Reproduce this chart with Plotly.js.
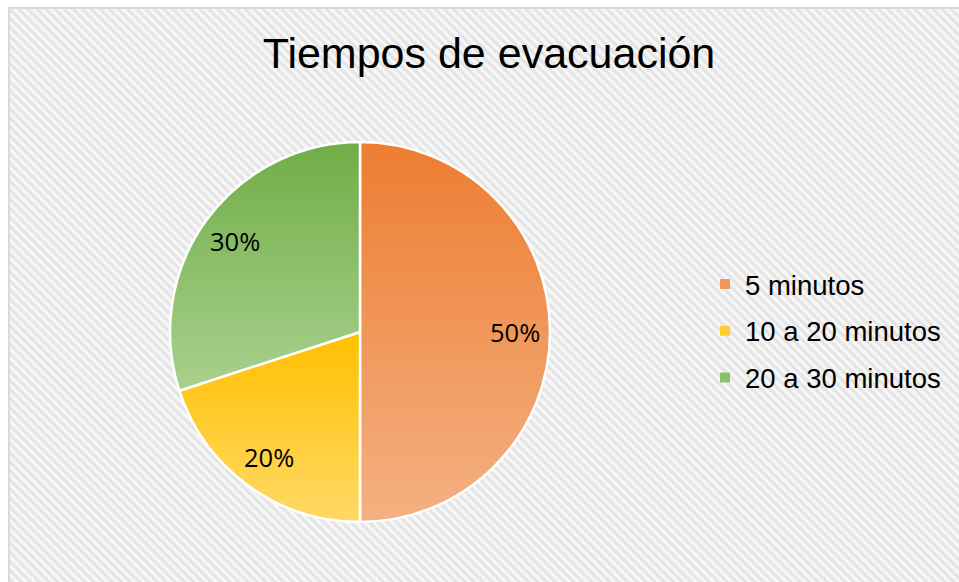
<!DOCTYPE html>
<html>
<head>
<meta charset="utf-8">
<script src="https://cdn.plot.ly/plotly-3.0.1.min.js"></script>
<style>
  html, body { margin: 0; padding: 0; background: #ffffff; }
  #frame {
    position: absolute; left: 8px; top: 7px; width: 951px; height: 575px;
    border-left: 2px solid #d9d9d9; border-top: 2px solid #d9d9d9;
    background: repeating-linear-gradient(45deg, #fbfbfb 0px, #e0e0e0 3.2px, #fbfbfb 6.4px);
  }
  #chart { position: absolute; left: 0; top: 0; width: 959px; height: 582px; }
</style>
</head>
<body>
<div id="frame"></div>
<div id="chart"></div>
<script>
const chartTitle = 'Tiempos de evacuación';
const labels = ['5 minutos', '10 a 20 minutos', '20 a 30 minutos'];
const values = [50, 20, 30];
const topColors = ['#ED7D31', '#FFC000', '#70AD47'];
const bottomColors = ['#F4B183', '#FFD966', '#A9D18E'];
const legendColors = ['#F0975A', '#FFCD33', '#8CBF6A'];

// pie geometry (pixels)
const W = 959, H = 582;
const cx = 360, cyFromTop = 332, R = 190;
const labelFrac = 0.815;

const pie = {
  type: 'pie',
  labels: labels,
  values: values,
  sort: false,
  direction: 'clockwise',
  rotation: 0,
  showlegend: false,
  textinfo: 'none',
  textposition: 'none',
  marker: { colors: topColors, line: { color: '#ffffff', width: 2.5 } },
  domain: { x: [(cx - R) / W, (cx + R) / W], y: [(H - cyFromTop - R) / H, (H - cyFromTop + R) / H] },
  hoverinfo: 'none'
};

// data labels placed at each slice's mid-angle, computed from the values
const total = values.reduce((a, b) => a + b, 0);
let cum = 0;
const labelAnnotations = values.map(v => {
  const mid = (cum + v / 2) / total * 2 * Math.PI;
  cum += v;
  const px = cx + labelFrac * R * Math.sin(mid);
  const pyUp = (H - cyFromTop) + labelFrac * R * Math.cos(mid);
  return {
    x: px / W, y: pyUp / H, xref: 'paper', yref: 'paper',
    xanchor: 'center', yanchor: 'middle', showarrow: false,
    text: Math.round(v / total * 100) + '%',
    font: { family: 'Open Sans', size: 25.5, color: '#000000' }
  };
});

const legendTraces = labels.map((lab, i) => ({
  type: 'scatter',
  mode: 'markers',
  x: [null], y: [null],
  name: lab,
  legendgroup: 'g' + i,
  marker: { symbol: 'square', size: 10, color: legendColors[i] },
  hoverinfo: 'none'
}));

const layout = {
  width: W, height: H,
  margin: { l: 0, r: 0, t: 0, b: 0 },
  paper_bgcolor: 'rgba(0,0,0,0)',
  plot_bgcolor: 'rgba(0,0,0,0)',
  font: { family: 'Liberation Sans, Arial, sans-serif', color: '#000000' },
  title: {
    text: chartTitle,
    font: { family: 'Liberation Sans, Arial, sans-serif', size: 43, color: '#000000' },
    x: 489 / W, xanchor: 'center', xref: 'container',
    y: 1 - 53 / H, yanchor: 'middle', yref: 'container'
  },
  xaxis: { visible: false, domain: [0.99, 1] },
  yaxis: { visible: false, domain: [0.99, 1] },
  annotations: labelAnnotations,
  showlegend: true,
  legend: {
    x: 705 / W, xanchor: 'left',
    y: 251 / H, yanchor: 'middle',
    font: { family: 'Liberation Sans, Arial, sans-serif', size: 27.5, color: '#000000' },
    tracegroupgap: 8,
    bgcolor: 'rgba(0,0,0,0)',
    itemclick: false, itemdoubleclick: false
  }
};

Plotly.newPlot('chart', [pie].concat(legendTraces), layout, { staticPlot: true }).then(() => {
  const svg = document.querySelector('#chart .main-svg');
  const ns = 'http://www.w3.org/2000/svg';
  let defs = svg.querySelector('defs');
  if (!defs) { defs = document.createElementNS(ns, 'defs'); svg.insertBefore(defs, svg.firstChild); }
  topColors.forEach((c, i) => {
    const g = document.createElementNS(ns, 'linearGradient');
    g.setAttribute('id', 'sliceGrad' + i);
    g.setAttribute('x1', '0'); g.setAttribute('y1', '0');
    g.setAttribute('x2', '0'); g.setAttribute('y2', '1');
    const s1 = document.createElementNS(ns, 'stop');
    s1.setAttribute('offset', '0'); s1.setAttribute('stop-color', c);
    const s2 = document.createElementNS(ns, 'stop');
    s2.setAttribute('offset', '1'); s2.setAttribute('stop-color', bottomColors[i]);
    g.appendChild(s1); g.appendChild(s2);
    defs.appendChild(g);
  });
  document.querySelectorAll('#chart g.slice path.surface').forEach((p, i) => {
    p.style.fill = 'url(#sliceGrad' + i + ')';
  });
});
</script>
</body>
</html>
